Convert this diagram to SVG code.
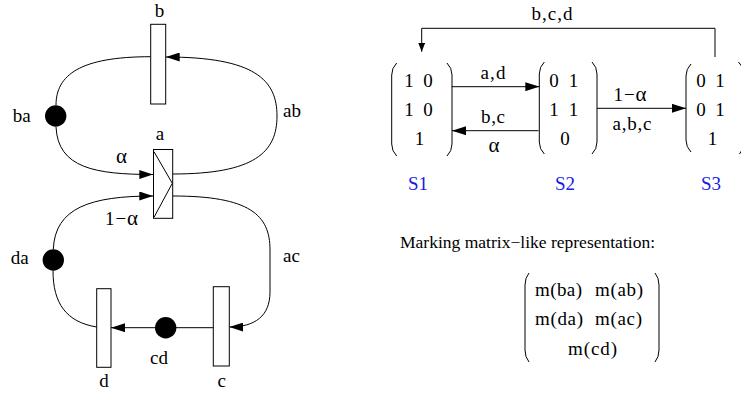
<svg xmlns="http://www.w3.org/2000/svg" width="741" height="394" viewBox="0 0 741 394">
<defs>
<style>
text{font-family:"Liberation Serif","Times New Roman",serif;font-size:19px;fill:#000}
.m{text-anchor:middle}
.s{fill:#1a1ae6}
.al{font-size:21px}
.tr{fill:#fff;stroke:#000;stroke-width:1}
.pl{fill:#000}
.e{fill:none;stroke:#000;stroke-width:1}
</style>
<marker id="ah" markerUnits="userSpaceOnUse" markerWidth="14" markerHeight="9" refX="14" refY="4.5" orient="auto"><path d="M0,0 L14,4.5 L0,9 z" fill="#000"/></marker>
<marker id="ahs" markerUnits="userSpaceOnUse" markerWidth="9" markerHeight="7" refX="9" refY="3.5" orient="auto"><path d="M0,0 L9,3.5 L0,7 z" fill="#000"/></marker>
</defs>

<g id="connectors">
<path class="e" d="M150.7,56.7 C80,56.7 56,75 56,105.3"/>
<path class="e" d="M56,127 C58,168 95,174.5 153.3,174.5" marker-end="url(#ah)"/>
<path class="e" d="M172.7,174 C255,174 277,152 277,116 C277,80 255,57 165.7,57" marker-end="url(#ah)"/>
<path class="e" d="M53.3,249.3 C55,208 90,196 153.3,196" marker-end="url(#ah)"/>
<path class="e" d="M172.7,196 C250,196 270,215 270,250 L270,292 C270,316 255,327 229.3,327" marker-end="url(#ah)"/>
<path class="e" d="M213.3,327.7 L111,327.7" marker-end="url(#ah)"/>
<path class="e" d="M96.7,327 C66,322 53,303 53,270.7"/>
<text class="al" x="116" y="163.3">α</text>
<text x="105" y="225" textLength="33">1−<tspan class="al">α</tspan></text>
<text x="283" y="116.7">ab</text>
<text x="283" y="261.7">ac</text>

<path class="e" d="M715,57 L715,28.3 L421.7,28.3 L421.7,51.7" marker-end="url(#ahs)"/>
<path class="e" d="M451.7,86.7 L539.3,86.7" marker-end="url(#ah)"/>
<path class="e" d="M538.5,130.7 L452,130.7" marker-end="url(#ah)"/>
<path class="e" d="M597,108.3 L686,108.3" marker-end="url(#ah)"/>
<text class="m" x="552" y="20" textLength="41">b,c,d</text>
<text class="m" x="493" y="79.3" textLength="25">a,d</text>
<text class="m" x="493" y="122.7" textLength="24">b,c</text>
<text class="m al" x="494" y="151.7">α</text>
<text class="m" x="630" y="100.7" textLength="33">1−<tspan class="al">α</tspan></text>
<text class="m" x="632" y="130" textLength="39">a,b,c</text>
</g>

<g id="b">
<rect class="tr" x="150.7" y="24.3" width="15" height="79.7"/>
<text class="m" x="159.5" y="16.7">b</text>
</g>
<g id="a">
<rect class="tr" x="153.5" y="149.5" width="19.2" height="68.8"/>
<path class="e" d="M154,151.7 L172.3,183.3 L154,217.3"/>
<text class="m" x="160" y="140">a</text>
</g>
<g id="c">
<rect class="tr" x="213.3" y="286.7" width="16" height="79.3"/>
<text class="m" x="221.7" y="386.7">c</text>
</g>
<g id="d">
<rect class="tr" x="96.7" y="288.7" width="14.3" height="78.6"/>
<text class="m" x="104" y="386.7">d</text>
</g>
<g id="ba">
<circle class="pl" cx="55.7" cy="116" r="10.7"/>
<text x="12.7" y="121.7">ba</text>
</g>
<g id="da">
<circle class="pl" cx="53.3" cy="260" r="10.7"/>
<text x="10.7" y="264">da</text>
</g>
<g id="cd">
<circle class="pl" cx="165.7" cy="327.7" r="10.7"/>
<text x="150" y="364">cd</text>
</g>

<g id="S1">
<path class="e" d="M396.7,63 Q391.7,68 391.7,75 L391.7,144 Q391.7,151 396.7,156"/>
<path class="e" d="M447,63 Q452,68 452,75 L452,144 Q452,151 447,156"/>
<text class="m" x="409" y="86.7">1</text>
<text class="m" x="428" y="86.7">0</text>
<text class="m" x="409" y="115.5">1</text>
<text class="m" x="428" y="115.5">0</text>
<text class="m" x="419.5" y="144.5">1</text>
<text class="m s" x="418" y="190">S1</text>
</g>
<g id="S2">
<path class="e" d="M544.3,62 Q539.3,67 539.3,74 L539.3,142 Q539.3,149 544.3,154"/>
<path class="e" d="M592,62 Q597,67 597,74 L597,142 Q597,149 592,154"/>
<text class="m" x="554" y="86.7">0</text>
<text class="m" x="573.5" y="86.7">1</text>
<text class="m" x="554" y="115.5">1</text>
<text class="m" x="573.5" y="115.5">1</text>
<text class="m" x="565" y="144.5">0</text>
<text class="m s" x="565" y="190">S2</text>
</g>
<g id="S3">
<path class="e" d="M691,64 Q686,69 686,76 L686,140 Q686,147 691,152"/>
<path class="e" d="M738.5,62 Q744,67 744,74 L744,142 Q744,149 739.5,154"/>
<text class="m" x="701" y="86.7">0</text>
<text class="m" x="720" y="86.7">1</text>
<text class="m" x="701" y="115.5">0</text>
<text class="m" x="720" y="115.5">1</text>
<text class="m" x="712.5" y="144.5">1</text>
<text class="m s" x="711" y="190">S3</text>
</g>

<g id="marking">
<text x="400" y="248" style="font-size:17.5px" textLength="255">Marking matrix−like representation:</text>
<path class="e" d="M529,273 Q525,278 525,285 L525,350 Q525,357 529,362"/>
<path class="e" d="M655,273 Q659,278 659,285 L659,350 Q659,357 655,362"/>
<text x="535" y="296" textLength="47">m(ba)</text>
<text x="595" y="296" textLength="48">m(ab)</text>
<text x="535" y="325" textLength="48">m(da)</text>
<text x="595" y="325" textLength="47">m(ac)</text>
<text x="568" y="355" textLength="49">m(cd)</text>
</g>
</svg>
